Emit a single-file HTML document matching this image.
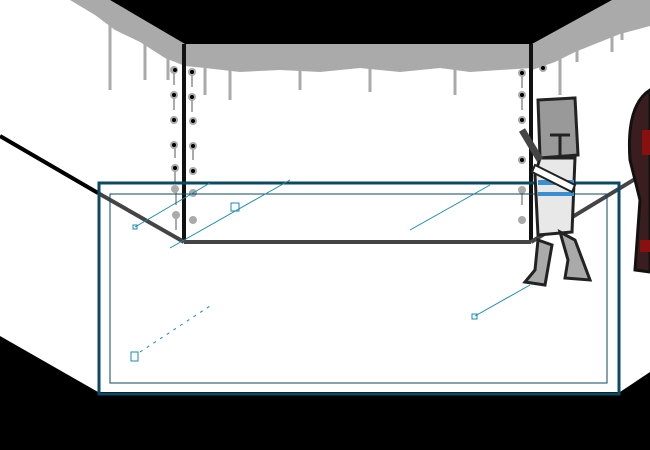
<!DOCTYPE html><html><head><style>body{margin:0;background:#fff}svg{display:block}</style></head><body>
<svg width="650" height="450" viewBox="0 0 650 450" xmlns="http://www.w3.org/2000/svg">
<rect width="650" height="450" fill="#fff"/>
<!-- ceiling drips -->
<polygon points="70,0 110,0 185,44 185,66 165,58 140,42 115,30 95,15 80,6" fill="#aaa"/>
<polygon points="185,44 532,44 532,68 500,70 470,72 440,68 400,72 360,68 320,72 280,70 240,72 205,68 185,66" fill="#aaa"/>
<polygon points="532,44 612,0 650,0 650,26 620,34 595,44 575,52 555,62 532,70" fill="#aaa"/>
<g stroke="#aaa" stroke-width="3">
<line x1="110" y1="20" x2="110" y2="90"/><line x1="145" y1="40" x2="145" y2="80"/><line x1="168" y1="55" x2="168" y2="80"/><line x1="205" y1="60" x2="205" y2="95"/><line x1="230" y1="65" x2="230" y2="100"/><line x1="300" y1="65" x2="300" y2="90"/><line x1="370" y1="65" x2="370" y2="92"/><line x1="455" y1="65" x2="455" y2="95"/><line x1="560" y1="45" x2="560" y2="95"/><line x1="577" y1="40" x2="577" y2="62"/><line x1="612" y1="25" x2="612" y2="52"/><line x1="622" y1="22" x2="622" y2="40"/>
</g>
<polygon points="110,0 185,44 532,44 612,0" fill="#000"/>
<!-- floor -->
<polygon points="0,336 98,392 620,392 650,372 650,450 0,450" fill="#000"/>
<!-- corners -->
<line x1="184" y1="44" x2="184" y2="242" stroke="#111" stroke-width="4"/>
<line x1="531" y1="44" x2="531" y2="242" stroke="#111" stroke-width="4"/>
<!-- bullet holes -->
<g stroke="#aaa" stroke-width="2">
<line x1="174" y1="70" x2="174" y2="85"/><line x1="192" y1="72" x2="192" y2="87"/><line x1="174" y1="95" x2="174" y2="110"/><line x1="192" y1="97" x2="192" y2="112"/><line x1="175" y1="145" x2="175" y2="158"/><line x1="193" y1="146" x2="193" y2="160"/><line x1="175" y1="170" x2="175" y2="182"/><line x1="176" y1="190" x2="176" y2="205"/><line x1="176" y1="215" x2="176" y2="230"/><line x1="522" y1="73" x2="522" y2="88"/><line x1="522" y1="95" x2="522" y2="110"/><line x1="522" y1="190" x2="522" y2="205"/>
</g>
<g fill="#aaa">
<circle cx="174" cy="70" r="4"/><circle cx="192" cy="72" r="4"/><circle cx="174" cy="95" r="4"/><circle cx="192" cy="97" r="4"/><circle cx="174" cy="120" r="4"/><circle cx="193" cy="121" r="4"/><circle cx="174" cy="145" r="4"/><circle cx="193" cy="146" r="4"/><circle cx="175" cy="168" r="4"/><circle cx="193" cy="171" r="4"/><circle cx="175" cy="189" r="4"/><circle cx="193" cy="193" r="4"/><circle cx="176" cy="215" r="4"/><circle cx="193" cy="220" r="4"/>
<circle cx="522" cy="73" r="4"/><circle cx="543" cy="68" r="4"/><circle cx="522" cy="95" r="4"/><circle cx="522" cy="120" r="4"/><circle cx="522" cy="160" r="4"/><circle cx="522" cy="190" r="4"/><circle cx="522" cy="220" r="4"/>
</g>
<g fill="#000">
<circle cx="175" cy="70" r="2"/><circle cx="192" cy="72" r="2"/><circle cx="174" cy="95" r="2"/><circle cx="192" cy="97" r="2"/><circle cx="174" cy="120" r="2"/><circle cx="193" cy="121" r="2"/><circle cx="174" cy="145" r="2"/><circle cx="193" cy="146" r="2"/><circle cx="175" cy="168" r="2"/><circle cx="193" cy="171" r="2"/><circle cx="522" cy="73" r="2"/><circle cx="543" cy="68" r="2"/><circle cx="522" cy="95" r="2"/><circle cx="522" cy="120" r="2"/><circle cx="522" cy="160" r="2"/>
</g>
<!-- back floor edges -->
<line x1="0" y1="136" x2="98" y2="193" stroke="#000" stroke-width="4"/>
<line x1="98" y1="193" x2="184" y2="242" stroke="#444" stroke-width="4"/>
<line x1="184" y1="242" x2="531" y2="242" stroke="#444" stroke-width="4"/>
<line x1="531" y1="242" x2="650" y2="170" stroke="#444" stroke-width="4"/>
<!-- blue box -->
<rect x="99" y="183" width="520" height="211" fill="none" stroke="#0b4a62" stroke-width="3"/>
<rect x="110" y="194" width="497" height="189" fill="none" stroke="#0b4a62" stroke-width="1"/>
<g stroke="#1a8ab0" stroke-width="1" fill="none">
<line x1="135" y1="227" x2="210" y2="183"/><line x1="170" y1="248" x2="290" y2="180"/><line x1="410" y1="230" x2="490" y2="185"/><line x1="475" y1="316" x2="530" y2="285"/><line x1="140" y1="352" x2="210" y2="306" stroke-dasharray="3,5"/>
<rect x="133" y="225" width="4" height="4"/><rect x="231" y="203" width="8" height="8"/><rect x="472" y="314" width="5" height="5"/><rect x="131" y="352" width="7" height="9"/>
</g>
<!-- knight -->
<g stroke="#222" stroke-width="3">
<polygon points="538,100 575,98 578,155 540,158" fill="#999"/>
<polygon points="540,158 575,158 572,232 538,235 535,175" fill="#e8e8e8"/>
<polygon points="538,240 552,245 545,285 525,282 535,270" fill="#aaa"/>
<polygon points="560,232 575,240 590,280 565,278 568,260" fill="#aaa"/>
</g>
<rect x="538" y="180" width="36" height="5" fill="#3a8fd0"/><rect x="538" y="192" width="36" height="4" fill="#3a8fd0"/>
<polygon points="535,165 575,185 572,192 532,172" fill="#fff" stroke="#222" stroke-width="2"/>
<polyline points="550,135 570,135 M560,135" stroke="#222" stroke-width="3" fill="none"/>
<line x1="560" y1="135" x2="560" y2="155" stroke="#222" stroke-width="3"/>
<line x1="522" y1="130" x2="540" y2="160" stroke="#444" stroke-width="7"/>
<!-- red character -->
<path d="M650,90 Q626,105 630,160 L640,200 L635,270 L650,272 Z" fill="#3a1d1f" stroke="#111" stroke-width="3"/>
<rect x="642" y="130" width="8" height="25" fill="#8a1010"/>
<rect x="640" y="240" width="10" height="12" fill="#8a1010"/>
</svg>
</body></html>
